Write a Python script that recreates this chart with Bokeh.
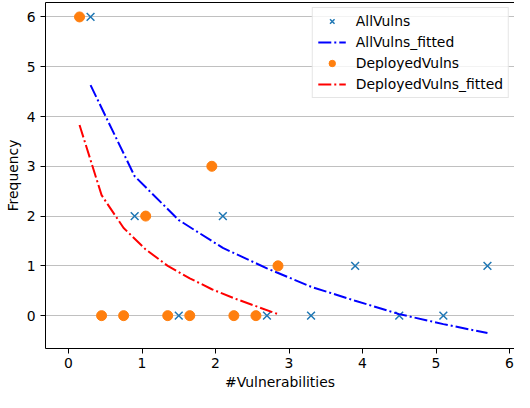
from bokeh.plotting import figure
from bokeh.models import Legend, LegendItem, LinearAxis, FixedTicker, Range1d
from bokeh.embed import file_html
from bokeh.resources import INLINE

# Data
all_x = [0.3, 0.9, 1.5, 2.1, 2.7, 3.3, 3.9, 4.5, 5.1, 5.7]
all_freq = [6, 2, 0, 2, 0, 0, 1, 0, 0, 1]
all_fit = [4.63, 2.8, 1.92, 1.36, 0.95, 0.58, 0.3, 0.03, -0.17, -0.35]

dep_x = [0.15, 0.45, 0.75, 1.05, 1.35, 1.65, 1.95, 2.25, 2.55, 2.85]
dep_freq = [6, 0, 0, 2, 0, 0, 3, 0, 0, 1]
dep_fit = [3.83, 2.42, 1.76, 1.33, 1.0, 0.75, 0.53, 0.35, 0.19, 0.03]

x_ticks = [0, 1, 2, 3, 4, 5, 6]
y_ticks = [0, 1, 2, 3, 4, 5, 6]

FONT = "DejaVu Sans"
FS = "13.9px"
DASH = "13 3 2 3"

p = figure(width=514, height=392, output_backend="svg", toolbar_location=None,
           x_range=Range1d(-0.313, 6.068), y_range=Range1d(-0.66, 6.29),
           min_border_left=45, min_border_right=0, min_border_top=2,
           min_border_bottom=44)
p.outline_line_color = None
p.background_fill_color = "white"

for ax in (p.xaxis[0], p.yaxis[0]):
    ax.axis_line_color = "black"
    ax.axis_line_width = 1
    ax.major_tick_line_color = "black"
    ax.major_tick_line_width = 1
    ax.major_tick_out = 5
    ax.major_tick_in = 0
    ax.minor_tick_line_color = None
    ax.major_label_text_font = FONT
    ax.major_label_text_font_size = FS
    ax.major_label_text_color = "black"
    ax.axis_label_text_font = FONT
    ax.axis_label_text_font_size = FS
    ax.axis_label_text_font_style = "normal"
    ax.axis_label_text_color = "black"

p.xaxis.ticker = FixedTicker(ticks=x_ticks)
p.yaxis.ticker = FixedTicker(ticks=y_ticks)
p.xaxis.axis_label = "#Vulnerabilities"
p.yaxis.axis_label = "Frequency"
p.xaxis.major_label_standoff = 4
p.xaxis.axis_label_standoff = 3
p.yaxis.major_label_standoff = 5
p.yaxis.axis_label_standoff = 3

# top spine
top = LinearAxis(ticker=FixedTicker(ticks=[]), axis_line_color="black",
                 axis_line_width=1, major_tick_line_color=None,
                 minor_tick_line_color=None, major_label_text_font_size="0px",
                 major_label_standoff=0)
p.add_layout(top, "above")

p.xgrid.grid_line_color = None
p.ygrid.grid_line_color = "#b0b0b0"
p.ygrid.grid_line_width = 0.8

r1 = p.scatter(all_x, all_freq, marker="x", size=11, line_color="#1f77b4",
               line_width=1.5)
r2 = p.line(all_x, all_fit, line_color="blue", line_width=2, line_dash=DASH)
r3 = p.scatter(dep_x, dep_freq, marker="circle", size=10,
               fill_color="#ff7f0e", line_color="#ff7f0e")
r4 = p.line(dep_x, dep_fit, line_color="red", line_width=2, line_dash=DASH)

legend = Legend(items=[
    LegendItem(label="AllVulns", renderers=[r1]),
    LegendItem(label="AllVulns_fitted", renderers=[r2]),
    LegendItem(label="DeployedVulns", renderers=[r3]),
    LegendItem(label="DeployedVulns_fitted", renderers=[r4]),
], location="top_right")
legend.margin = 5
legend.padding = 5
legend.spacing = 5
legend.glyph_width = 28
legend.glyph_height = 16
legend.label_height = 16
legend.label_standoff = 10
legend.label_text_font = FONT
legend.label_text_font_size = FS
legend.label_text_color = "black"
legend.border_line_color = "#cccccc"
legend.border_line_width = 1
legend.background_fill_color = "white"
legend.background_fill_alpha = 0.8
p.add_layout(legend)

open("out.html", "w").write(file_html(p, INLINE))
